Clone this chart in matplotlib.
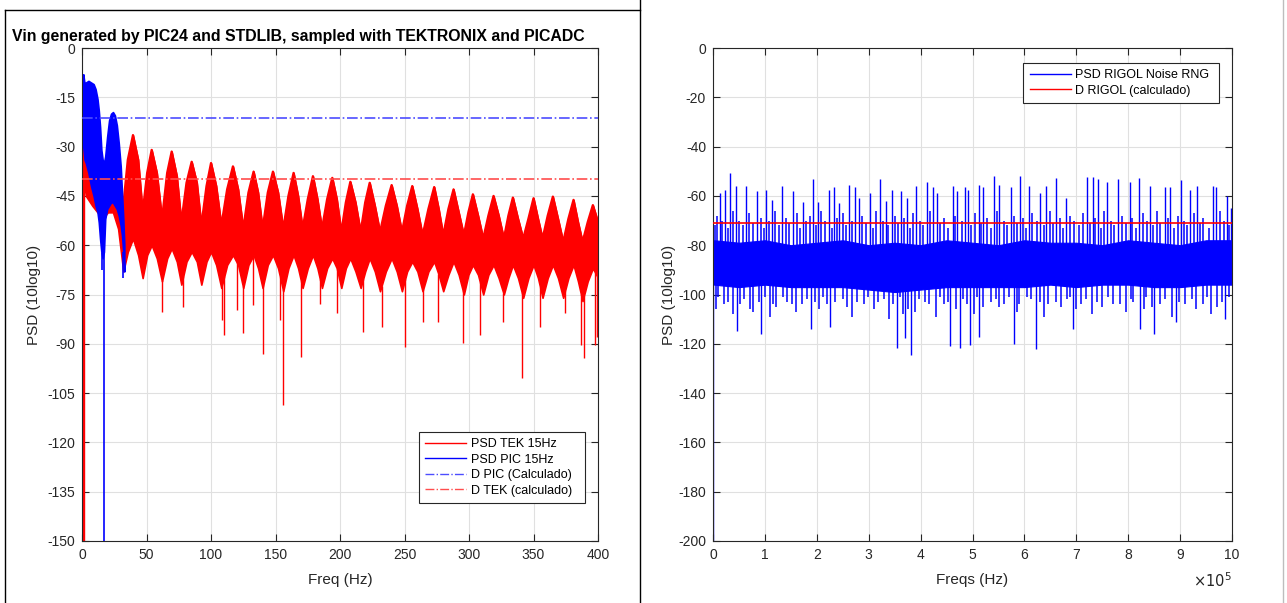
import numpy as np
import matplotlib
matplotlib.use('Agg')
from matplotlib import pyplot as plt
from matplotlib.lines import Line2D
from matplotlib.ticker import MultipleLocator, FuncFormatter

plt.rcParams['font.family'] = ['Liberation Sans', 'DejaVu Sans']
plt.rcParams['font.size'] = 10
plt.rcParams['axes.unicode_minus'] = False

# ---- left panel: TEK / PIC PSD ----
# lobe-by-lobe: freq, top of the dense band, bottom of the dense band
tek_f = [1.0, 1.3, 3, 8, 12, 16, 20, 24, 28, 32,
         35.5, 39.5, 43.5, 47,   50.5, 54, 58, 62,   66, 69.5, 73.5, 77,
         81, 85, 89, 92.5,   96.5, 100, 104, 108,   112.5, 117, 121, 125,
         129, 133, 136.5, 140,   144, 148, 152, 156,   160, 164, 167.5, 171,
         175, 179, 182.5, 186,   190, 194, 197.5, 201,   204.5, 208, 212, 216,
         219.5, 223, 227, 231,   235.5, 240, 244, 248,   252, 256, 260, 264,
         268.5, 273, 276.5, 280,   284, 288, 292, 296,   299.5, 303, 307, 311,
         315, 319, 323, 327,   330.5, 334, 338, 342,   346, 350, 353.5, 357,
         361, 365, 369, 373,   377, 381, 384.5, 388,   392, 396, 400]
tek_hi = [-150, -25, -28, -30, -32, -36, -35, -33, -37, -48,
          -34, -26.5, -34, -50,   -38, -31, -38, -52,   -38, -31.5, -39, -53,
          -41, -34.6, -41, -54,   -42, -35, -42, -54,   -43, -36, -43, -55,
          -44, -37.6, -44, -55,   -44, -37.6, -44, -55,   -45, -38, -45, -55,
          -46, -39, -46, -55,   -46, -39.5, -46, -56,   -47, -40.7, -47, -56,
          -47, -41, -48, -56,   -48, -41.7, -48, -56,   -48, -42, -49, -57,
          -49, -42.3, -49, -57,   -49, -43, -50, -57,   -50, -44.5, -51, -58,
          -51, -45, -51, -58,   -51, -45.5, -52, -58,   -52, -45.7, -52, -58,
          -51, -45.2, -52, -59,   -52, -46.2, -53, -59,   -53, -47.8, -53]
tek_lo = [-150, -40, -45, -48, -50, -52, -50, -50, -55, -68,
          -62, -58, -63, -70,   -63, -60, -64, -71,   -64, -61, -65, -72,
          -65, -62, -65, -72,   -65, -62, -66, -73,   -66, -63, -66, -73,
          -66, -63, -67, -73,   -66, -63, -67, -74,   -67, -63, -67, -73,
          -67, -63, -67, -73,   -67, -64, -67, -73,   -67, -64, -68, -73,
          -68, -64, -68, -74,   -68, -64, -68, -74,   -68, -65, -68, -74,
          -68, -65, -69, -74,   -69, -65, -69, -75,   -69, -66, -69, -75,
          -69, -66, -70, -75,   -70, -66, -70, -76,   -70, -66, -70, -76,
          -70, -66, -70, -76,   -70, -66, -71, -77,   -71, -67, -70]
tek_dip_f = [62.3, 78.5, 108.3, 110.3, 119.9, 124.6, 132.3, 140.6, 153.5, 155.6,
             169.8, 184.5, 197.4, 218, 232.3, 250.4, 264.6, 276.2, 295.1, 308.5,
             326.6, 340.8, 355, 374.4, 386.8, 389.1, 397.7, 399]
tek_dip_v = [-80.2, -78.7, -82.8, -87.3, -79.6, -86.8, -78.2, -93.1, -82.8, -108.6,
             -93.9, -77.8, -80.7, -86.3, -84.8, -91.1, -83.3, -83.3, -89.9, -87.3,
             -83.3, -100.5, -84.8, -80.7, -90.4, -94.4, -90.4, -88]

pic_f = [1.0, 2, 3, 5, 7, 9, 10.5, 12, 13, 14, 15, 16, 17, 18, 19.5, 21, 22.5,
         24, 25.5, 27, 28.5, 30, 31, 32, 32.8]
pic_hi = [-8, -11, -10.5, -10, -10.5, -11, -12.5, -15.5, -19, -24, -31, -34, -35, -33,
          -27, -22, -20, -19.5, -20.5, -23.5, -29, -36, -44, -52, -60]
pic_lo = [-30, -34, -35, -38, -42, -45, -48, -50, -53, -58, -62, -64, -62, -52,
          -49, -48, -47, -47, -48, -49, -51, -54, -57, -62, -68]
pic_dip_f = [15.2, 17.0, 32.0]
pic_dip_v = [-67.5, -150, -70]

d_pic = -21.3
d_tek = -40.0

# ---- right panel: RIGOL noise PSD (freq in units of 1e5 Hz) ----
rig_f = [0.02, 0.5, 1.0, 1.5, 2.0, 2.5, 3.0, 3.5, 4.0, 4.5, 5.0,
         5.5, 6.0, 6.5, 7.0, 7.5, 8.0, 8.5, 9.0, 9.5, 10.0]
rig_hi = [-78, -79, -78, -80, -79, -78, -80, -79, -80, -78, -79,
          -80, -78, -79, -79, -80, -78, -79, -80, -78, -78]
rig_lo = [-96, -97, -96, -97, -97, -97, -98, -99, -98, -97, -97,
          -97, -97, -96, -97, -96, -96, -97, -97, -96, -96]
rig_up_f = [0.13, 0.23, 0.33, 0.44, 0.64, 0.84, 1.03, 1.13, 1.32, 1.54, 1.73, 1.92,
            2.02, 2.24, 2.33, 2.43, 2.62, 2.74, 2.81, 3.02, 3.22, 3.33, 3.44, 3.62,
            3.73, 3.91, 4.12, 4.23, 4.31, 4.62, 4.71, 4.86, 4.92, 5.13, 5.21, 5.42,
            5.52, 5.74, 5.92, 6.09, 6.31, 6.42, 6.61, 6.81, 7.20, 7.32, 7.41, 7.59,
            7.81, 8.03, 8.21, 8.42, 8.70, 8.81, 9.02, 9.19, 9.32, 9.63, 9.70, 9.90, 9.99]
rig_up_v = [-59, -57.6, -50.8, -56, -56, -58.2, -57.5, -61.7, -56, -58, -62.5, -53.3,
            -62.5, -57.5, -56.3, -63, -55.5, -56.3, -61, -59, -53.3, -62, -57.6, -58.2,
            -61, -55.8, -54.3, -56.3, -59, -55.8, -58, -56.3, -57.6, -55.7, -56.3, -51.8,
            -55.7, -56.3, -51.8, -56, -58.7, -56, -52.7, -60.8, -52.3, -52.3, -53.3, -54.5,
            -53, -54.5, -52.7, -56, -56.3, -56.3, -53.6, -57.6, -56, -56, -56.3, -60, -65]
rig_midup_f = [0.03, 0.08, 0.18, 0.29, 0.38, 0.5, 0.57, 0.7, 0.77, 0.92, 0.98, 1.08,
               1.2, 1.27, 1.4, 1.47, 1.62, 1.68, 1.8, 1.86, 1.98, 2.08, 2.16, 2.29,
               2.38, 2.5, 2.56, 2.68, 2.88, 2.94, 3.08, 3.15, 3.28, 3.38, 3.5, 3.56,
               3.68, 3.8, 3.86, 3.98, 4.05, 4.18, 4.38, 4.45, 4.53, 4.67, 4.8, 4.98,
               5.05, 5.16, 5.28, 5.36, 5.47, 5.6, 5.67, 5.8, 5.86, 5.98, 6.04, 6.15,
               6.24, 6.37, 6.5, 6.56, 6.68, 6.75, 6.88, 6.96, 7.05, 7.12, 7.26, 7.36,
               7.47, 7.54, 7.66, 7.72, 7.88, 7.95, 8.08, 8.15, 8.28, 8.36, 8.48, 8.56,
               8.62, 8.76, 8.88, 8.95, 9.08, 9.14, 9.26, 9.38, 9.45, 9.56, 9.76, 9.84, 9.95]
rig_midup_v = [-72, -68, -70, -73, -66, -70, -72, -67, -71, -69, -73, -70,
               -66, -72, -69, -71, -67, -73, -70, -68, -72, -66, -70, -73,
               -69, -67, -72, -70, -68, -71, -73, -66, -70, -72, -68, -71,
               -69, -73, -67, -70, -72, -66, -71, -69, -73, -68, -70, -72,
               -67, -71, -69, -73, -66, -70, -72, -68, -71, -69, -73, -67,
               -70, -72, -66, -71, -69, -73, -68, -70, -72, -67, -71, -69,
               -73, -66, -70, -72, -68, -71, -69, -73, -67, -70, -72, -66,
               -71, -69, -73, -68, -70, -72, -67, -71, -69, -73, -66, -70, -72]
rig_dn_f = [0.0, 0.47, 0.93, 1.89, 2.26, 3.54, 3.70, 3.81, 4.57, 4.76, 4.95, 5.13,
            5.79, 6.23, 6.93, 8.22, 8.50, 8.92, 9.86]
rig_dn_v = [-205, -115, -116, -114, -113, -121.8, -117.5, -124.6, -121, -121.6, -120.6, -117.3,
            -120, -122, -114, -114, -116, -111, -110]
rig_mid_f = [0.05, 0.1, 0.21, 0.28, 0.38, 0.52, 0.6, 0.72, 0.78, 0.88, 1.0, 1.1, 1.16,
             1.22, 1.35, 1.42, 1.52, 1.6, 1.72, 1.82, 1.96, 2.05, 2.12, 2.2, 2.36, 2.5,
             2.58, 2.68, 2.78, 2.9, 2.98, 3.1, 3.18, 3.3, 3.4, 3.47, 3.6, 3.66, 3.75,
             3.9, 3.96, 4.08, 4.16, 4.3, 4.38, 4.45, 4.52, 4.68, 4.82, 4.9, 5.02, 5.08,
             5.2, 5.35, 5.45, 5.52, 5.6, 5.7, 5.85, 5.9, 6.05, 6.12, 6.3, 6.38, 6.45,
             6.6, 6.7, 6.82, 6.88, 7.0, 7.1, 7.18, 7.3, 7.4, 7.5, 7.62, 7.7, 7.85,
             7.95, 8.05, 8.1, 8.3, 8.35, 8.45, 8.62, 8.7, 8.85, 8.98, 9.1, 9.22, 9.3,
             9.45, 9.52, 9.6, 9.72, 9.8, 9.94]
rig_mid_v = [-106, -101, -104, -103, -108, -104, -102, -106, -107, -103, -101, -109,
             -104, -105, -101, -103, -104, -107, -104, -102, -103, -106, -101, -104,
             -103, -102, -105, -109, -103, -104, -101, -106, -103, -102, -110, -104,
             -101, -108, -106, -107, -102, -103, -104, -109, -101, -104, -103, -106,
             -102, -104, -108, -101, -105, -103, -102, -105, -104, -101, -107, -104,
             -101, -102, -103, -109, -104, -103, -105, -102, -101, -106, -104, -102,
             -108, -103, -105, -101, -104, -104, -107, -102, -103, -106, -101, -105,
             -104, -102, -109, -103, -104, -102, -106, -104, -101, -108, -105, -103, -101]
d_rigol = -71.1

RED = '#ff0000'
BLUE = '#0000ff'
AXC = '#262626'

fig = plt.figure(figsize=(12.87, 6.03), dpi=100)
ax1 = fig.add_axes([82/1287, 1-541/603, 516/1287, 493/603])
ax2 = fig.add_axes([713/1287, 1-541/603, 519/1287, 493/603])

# left
ax1.fill_between(tek_f, tek_lo, tek_hi, color=RED, lw=1.2, zorder=2)
ax1.plot(tek_f, tek_hi, color=RED, lw=1.6, zorder=2)
ax1.vlines(tek_dip_f, np.interp(tek_dip_f, tek_f, tek_lo), tek_dip_v, color=RED, lw=1.0, zorder=2)
ax1.vlines([1.3], -150, -25, color=RED, lw=1.0, zorder=2)
ax1.fill_between(pic_f, pic_lo, pic_hi, color=BLUE, lw=1.2, zorder=3)
ax1.vlines(pic_dip_f, np.interp(pic_dip_f, pic_f, pic_lo), pic_dip_v, color=BLUE, lw=1.2, zorder=3)
ax1.axhline(d_pic, color='#4d4dff', ls='-.', lw=1.2, zorder=4)
ax1.axhline(d_tek, color='#ff4d4d', ls='-.', lw=1.2, zorder=4)

ax1.set_xlim(0, 400)
ax1.set_ylim(-150, 0)
ax1.xaxis.set_major_locator(MultipleLocator(50))
ax1.yaxis.set_major_locator(MultipleLocator(15))
ax1.set_xlabel('Freq (Hz)', fontsize=11, color=AXC, labelpad=8)
ax1.set_ylabel('PSD (10log10)', fontsize=11, color=AXC, labelpad=4.5)

leg_kw = dict(fontsize=9, handlelength=3.3, labelspacing=0.28, borderpad=0.5,
              handletextpad=0.35, borderaxespad=0, fancybox=False, framealpha=1, edgecolor=AXC)
leg_handles = [Line2D([], [], color=RED, lw=1),
               Line2D([], [], color=BLUE, lw=1),
               Line2D([], [], color='#4d4dff', lw=1, ls='-.'),
               Line2D([], [], color='#ff4d4d', lw=1, ls='-.')]
lg1 = ax1.legend(leg_handles, ['PSD TEK 15Hz', 'PSD PIC 15Hz', 'D PIC (Calculado)  ', 'D TEK (calculado)  '],
                 loc='lower right', bbox_to_anchor=(0.975, 0.077), **leg_kw)
lg1.get_frame().set_linewidth(0.8)

# right
x5 = 1e5
ax2.fill_between(np.array(rig_f)*x5, rig_lo, rig_hi, color=BLUE, lw=0.8, zorder=2)
ax2.vlines(np.array(rig_midup_f)*x5, -85, rig_midup_v, color=BLUE, lw=1.1, zorder=2)
ax2.vlines(np.array(rig_up_f)*x5, -80, rig_up_v, color=BLUE, lw=1.0, zorder=2)
ax2.vlines(np.array(rig_dn_f)*x5, -92, rig_dn_v, color=BLUE, lw=1.0, zorder=2)
ax2.vlines(np.array(rig_mid_f)*x5, -92, rig_mid_v, color=BLUE, lw=1.1, zorder=2)
ax2.axhline(d_rigol, color=RED, lw=1.2, zorder=3)
ax2.set_xlim(0, 10*x5)
ax2.set_ylim(-200, 0)
ax2.xaxis.set_major_locator(MultipleLocator(x5))
ax2.xaxis.set_major_formatter(FuncFormatter(lambda v, p: '%d' % round(v/x5)))
ax2.yaxis.set_major_locator(MultipleLocator(20))
ax2.set_xlabel('Freqs (Hz)', fontsize=11, color=AXC, labelpad=8)
ax2.set_ylabel('PSD (10log10)', fontsize=11, color=AXC, labelpad=1.5)
ax2.text(1.0, -0.08, r'$\times 10^5$', transform=ax2.transAxes, ha='right', va='center',
         fontsize=10.5, color=AXC)
lg2 = ax2.legend([Line2D([], [], color=BLUE, lw=1), Line2D([], [], color=RED, lw=1)],
                 ['PSD RIGOL Noise RNG ', 'D RIGOL (calculado) '],
                 loc='upper right', bbox_to_anchor=(0.975, 0.97), **leg_kw)
lg2.get_frame().set_linewidth(0.8)

for ax in (ax1, ax2):
    ax.grid(True, color='#e0e0e0', lw=0.8, zorder=0)
    ax.set_axisbelow(True)
    ax.tick_params(direction='in', top=True, right=True, length=5, width=0.8,
                   colors=AXC, labelsize=10, pad=5)
    for s in ax.spines.values():
        s.set_color(AXC)
        s.set_linewidth(0.8)

fig.text(12/1287, 1-36/603, 'Vin generated by PIC24 and STDLIB, sampled with TEKTRONIX and PICADC',
         fontsize=11.4, fontweight='bold', ha='left', va='center')

# figure frames
fig.add_artist(Line2D([5/1287, 5/1287], [0, 1-10/603], color='k', lw=1))
fig.add_artist(Line2D([5/1287, 640/1287], [1-10/603, 1-10/603], color='k', lw=1))
fig.add_artist(Line2D([640/1287, 640/1287], [0, 1], color='k', lw=1))
fig.add_artist(Line2D([1283/1287, 1283/1287], [0, 1], color='#bdbdbd', lw=1))

fig.savefig('out.png', dpi=100)
